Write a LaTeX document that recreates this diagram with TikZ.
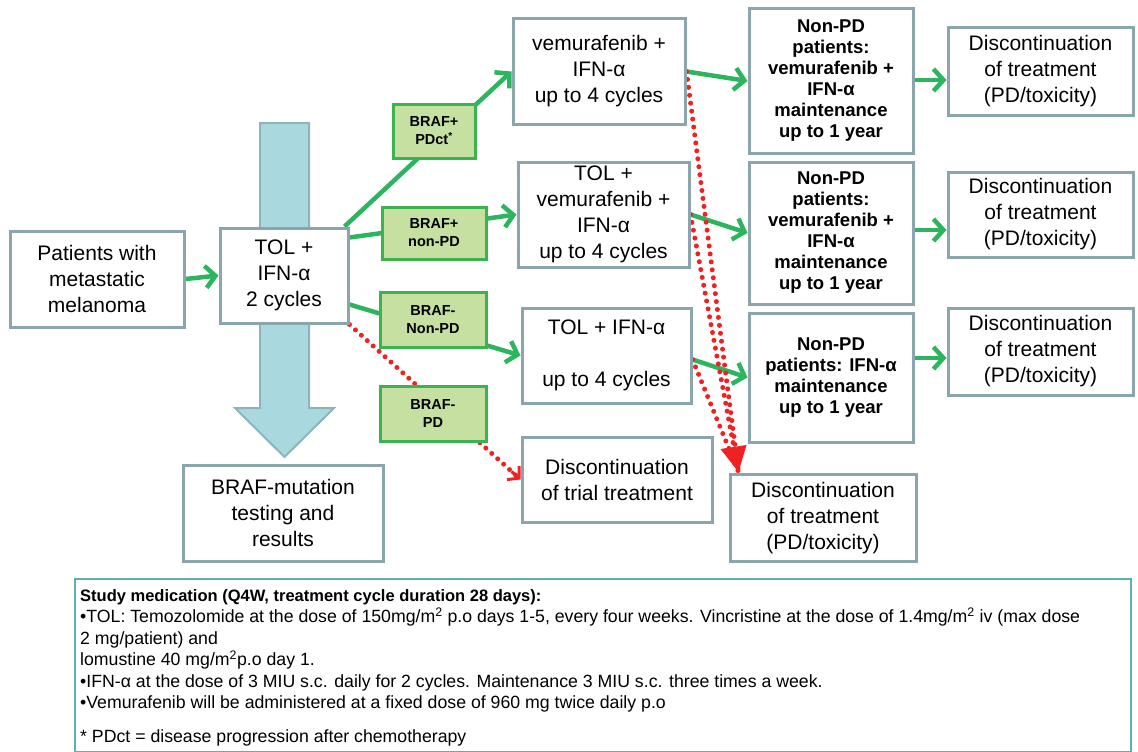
\documentclass[tikz,border=0pt]{standalone}
\usepackage{fontspec}
\setmainfont{Liberation Sans}
\usetikzlibrary{arrows.meta,calc}
\pgfdeclarelayer{bg}
\pgfsetlayers{bg,main}
\definecolor{boxgray}{HTML}{8AA6AC}
\definecolor{labgreen}{HTML}{3DB34F}
\definecolor{labfill}{HTML}{C5E0A0}
\definecolor{arrgreen}{HTML}{2DB45E}
\definecolor{bigfill}{HTML}{A9D9DF}
\definecolor{bigdraw}{HTML}{8DB4BA}
\definecolor{dotred}{HTML}{EE2222}
\definecolor{noteteal}{HTML}{5DB0B2}
\tikzset{
  box/.style={draw=boxgray, line width=3pt, fill=white, align=center, inner sep=0pt,
    font=\fontsize{21}{26}\selectfont},
  bbox/.style={box, font=\bfseries\fontsize{18.5}{21}\selectfont},
  lab/.style={draw=labgreen, fill=labfill, line width=3pt, align=center, inner sep=0pt,
    font=\bfseries\fontsize{14.5}{18}\selectfont},
  garrow/.style={draw=arrgreen, line width=4.5pt, -{Straight Barb[length=10pt,width=22pt]}},
  rdot/.style={draw=dotred, line width=5pt, dash pattern=on 0pt off 8pt, line cap=round},
}
\begin{document}
\begin{tikzpicture}[x=1pt,y=-1pt]
\useasboundingbox (0,0) rectangle (1138,752);

% main boxes
\node[box, minimum width=174pt, minimum height=96pt] (pat) at (97,279) {Patients with\\metastatic\\melanoma};
\node[box, minimum width=128pt, minimum height=95pt] (tol) at (284,275.5) {TOL +\\IFN-α\\2 cycles};
\node[box, minimum width=200pt, minimum height=96pt] (braf) at (283,513) {BRAF-mutation\\testing and\\results};
\node[box, minimum width=172pt, minimum height=105pt] (vem) at (599,71.5) {vemurafenib +\\IFN-α\\up to 4 cycles};
\node[box, minimum width=171pt, minimum height=105pt] (tolvem) at (603.5,214.5) {TOL +\\vemurafenib +\\IFN-α\\up to 4 cycles};
\node[box, minimum width=169pt, minimum height=95pt] (tolifn) at (606.5,355.5) {TOL + IFN-α\\[26pt]up to 4 cycles};
\node[box, minimum width=190pt, minimum height=85pt] (trial) at (617,479.5) {Discontinuation\\of trial treatment};
\node[box, minimum width=186pt, minimum height=87pt] (discB) at (823,518) {Discontinuation\\of treatment\\(PD/toxicity)};

\node[bbox, minimum width=164pt, minimum height=144pt] (np1) at (831,81) {Non-PD\\patients:\\vemurafenib +\\IFN-α\\maintenance\\up to 1 year};
\node[bbox, minimum width=164pt, minimum height=142pt] (np2) at (831,233) {Non-PD\\patients:\\vemurafenib +\\IFN-α\\maintenance\\up to 1 year};
\node[bbox, minimum width=164pt, minimum height=129pt] (np3) at (831,377.5) {Non-PD\\patients: IFN-α\\maintenance\\up to 1 year};

\node[box, minimum width=185pt, minimum height=87pt] (d1) at (1040.5,71.5) {Discontinuation\\of treatment\\(PD/toxicity)};
\node[box, minimum width=185pt, minimum height=85pt] (d2) at (1040.5,214.5) {Discontinuation\\of treatment\\(PD/toxicity)};
\node[box, minimum width=185pt, minimum height=87pt] (d3) at (1040.5,351.5) {Discontinuation\\of treatment\\(PD/toxicity)};

% label boxes
\node[lab, minimum width=82pt, minimum height=54pt] (l1) at (434,131) {BRAF+\\PDct\textsuperscript{*}};
\node[lab, minimum width=104pt, minimum height=52pt] (l2) at (434,233) {BRAF+\\non-PD};
\node[lab, minimum width=106pt, minimum height=55pt] (l3) at (433,319.5) {BRAF-\\Non-PD};
\node[lab, minimum width=106pt, minimum height=55pt] (l4) at (433,413.5) {BRAF-\\PD};

\coordinate (dtip) at ($(discB.north west)+(10,-1)$);

\begin{pgfonlayer}{bg}
  % big arrow
  \draw[fill=bigfill, draw=bigdraw, line width=2pt]
    (260,123) -- (309,123) -- (309,408) -- (334,408) -- (284.5,457) -- (235,408) -- (260,408) -- cycle;
  % green connectors
  \draw[garrow] (pat.east) -- (tol.west);
  \draw[garrow] ($(tol.north east)+(-5,0)$) -- (vem.west);
  \draw[garrow] ($(tol.north east)+(0,11)$) -- (tolvem.west);
  \draw[garrow] ($(tol.south east)+(0,-20)$) -- (tolifn.west);
  \draw[garrow] (vem.east) -- (np1.west);
  \draw[garrow] (tolvem.east) -- (np2.west);
  \draw[garrow] ($(tolifn.east)+(0,4)$) -- (np3.west);
  \draw[garrow] (np1.east |- 0,80) -- (d1.west |- 0,80);
  \draw[garrow] (np2.east |- 0,230) -- (d2.west |- 0,230);
  \draw[garrow] (np3.east |- 0,358) -- (d3.west |- 0,358);
  % red dotted connectors
  \draw[rdot] (tol.south east) -- (trial.west);
  \draw[draw=dotred, line width=3pt, -{Straight Barb[length=8pt,width=18pt]}] ($(trial.west)+(-9,-8)$) -- (trial.west);
  \draw[rdot] (vem.east) -- (dtip);
  \draw[rdot] (tolvem.east) -- (dtip);
  \draw[rdot] ($(tolifn.east)+(0,4)$) -- (dtip);
  \fill[dotred] (dtip) -- ++(-18,-23) -- ++(26,-4) -- cycle;
\end{pgfonlayer}

% notes
\node[draw=noteteal, line width=2pt, minimum width=1056pt, minimum height=173pt, inner sep=0pt] (notebox) at (603,665.5) {};
\node[anchor=north west, align=left, inner sep=0pt, font=\fontsize{17.7}{21.5}\selectfont] (notes) at (80,589)
{{\bfseries\fontsize{16.5}{21.5}\selectfont Study medication (Q4W, treatment cycle duration 28 days):}\\
•TOL: Temozolomide at the dose of 150mg/m\textsuperscript{2} p.o days 1-5, every four weeks. Vincristine at the dose of 1.4mg/m\textsuperscript{2} iv (max dose\\
2 mg/patient) and\\
lomustine 40 mg/m\textsuperscript{2}p.o day 1.\\
•IFN-α at the dose of 3 MIU s.c. daily for 2 cycles. Maintenance 3 MIU s.c. three times a week.\\
•Vemurafenib will be administered at a fixed dose of 960 mg twice daily p.o\\[12pt]
* PDct = disease progression after chemotherapy};
\end{tikzpicture}
\end{document}
